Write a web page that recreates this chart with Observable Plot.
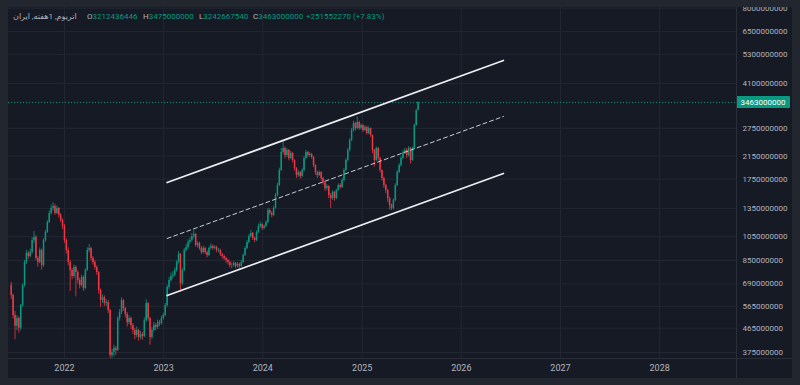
<!DOCTYPE html>
<html><head><meta charset="utf-8">
<script src="https://cdn.jsdelivr.net/npm/d3@7"></script>
<script src="https://cdn.jsdelivr.net/npm/@observablehq/plot@0.6"></script>
<style>
html,body{margin:0;padding:0;background:#22262f;width:800px;height:385px;overflow:hidden;}
#panel{position:absolute;left:8px;top:7px;width:784px;height:371px;background:#161a25;overflow:hidden;}
#chart{position:absolute;left:-8px;top:-7px;width:800px;height:385px;}
#chart svg{max-width:none !important;width:800px;height:385px;display:block;}
.sep{position:absolute;background:#2a2e39;}
#legend span{position:absolute;top:12px;font:8px Roboto,'DejaVu Sans',sans-serif;color:#b2b5be;white-space:nowrap;line-height:10px;}
#legend b{font-weight:normal;color:#089981;}
</style></head>
<body>
<div id="panel">
  <div id="chart"></div>
  <div class="sep" style="left:728px;top:0;width:1px;height:371px"></div>
  <div class="sep" style="left:0;top:351px;width:784px;height:1px"></div>
</div>
<div id="legend"></div>
<script>
// ---- data (prices in millions) ----
const title = "اتریوم, 1هفته, ایران";
const ohlcLegend = {O: "3212436446", H: "3475000000", L: "3242667540", C: "3463000000", change: "+251552270 (+7.83%)"};
const firstWeek = "2021-06-19";
const firstOpenM = 680;
const closeM = [
 622,521,473,507,465,569,680,835,905,880,
 912,1015,1042,865,835,929,813,1015,1090,1191,
 1291,1349,1373,1291,1349,1268,1213,1150,1015,929,
 835,777,737,798,763,711,680,731,662,777,
 929,946,865,835,798,763,651,595,611,580,
 585,545,365,375,389,382,507,535,595,554,
 526,489,507,477,456,436,456,428,440,432,
 498,580,507,428,456,477,468,489,485,507,
 521,569,668,711,737,744,777,835,896,692,
 777,929,954,997,1015,1052,1071,971,988,946,
 912,946,912,888,946,962,946,954,929,929,
 896,880,865,850,835,813,813,828,806,820,
 806,835,888,946,997,1052,1081,1033,1015,1090,
 1150,1170,1130,1150,1191,1325,1291,1268,1349,1514,
 1654,1890,2219,2299,2160,2259,2103,2199,2066,1924,
 1808,1856,1792,1890,2103,2219,2160,2179,2122,1976,
 1856,1808,1856,1761,1699,1610,1639,1514,1474,1555,
 1474,1582,1654,1625,1730,1890,2066,2259,2468,2697,
 2870,2745,2897,2745,2820,2697,2770,2624,2745,2580,
 2259,2066,2299,2103,1890,1761,1654,1582,1474,1385,
 1349,1448,1654,1856,1976,2103,2219,2259,2160,2299,
 2066,2299,2820,3212.436446,3463];
const highM = [
 700,630,540,520,515,575,690,850,930,920,
 940,1040,1100,1060,880,950,940,1030,1110,1210,
 1320,1390,1420,1400,1380,1360,1290,1230,1170,1030,
 950,850,790,815,810,775,725,745,740,790,
 950,980,955,880,850,810,770,660,625,620,
 600,595,550,385,400,395,515,550,610,600,
 560,535,520,512,485,465,470,460,452,448,
 510,600,585,512,468,490,485,500,498,518,
 532,580,680,730,760,770,795,850,920,905,
 790,945,980,1020,1040,1080,1110,1080,1005,1000,
 960,965,955,925,960,985,975,970,965,945,
 940,905,890,875,860,845,830,840,835,835,
 830,850,900,960,1015,1070,1110,1090,1045,1105,
 1175,1195,1180,1165,1210,1350,1345,1310,1375,1540,
 1690,1930,2300,2470,2330,2300,2280,2240,2220,2080,
 1940,1890,1870,1920,2140,2260,2240,2220,2200,2140,
 1990,1880,1880,1870,1780,1720,1670,1650,1540,1580,
 1570,1600,1680,1680,1760,1920,2100,2300,2510,2750,
 2930,2900,3050,2930,2860,2840,2810,2800,2790,2760,
 2590,2280,2330,2320,2120,1900,1780,1670,1600,1490,
 1400,1470,1680,1890,2010,2140,2260,2300,2300,2340,
 2320,2330,2860,3260,3475];
const lowM = [
 600,505,420,455,445,455,560,670,820,860,
 870,900,990,850,800,825,780,800,1000,1080,
 1180,1270,1320,1270,1280,1240,1190,1120,990,900,
 810,645,715,725,615,690,660,670,645,655,
 770,910,845,815,780,745,630,560,580,565,
 565,530,356,356,360,365,378,495,525,540,
 510,470,480,460,440,420,428,415,420,418,
 428,490,495,400,420,450,455,460,472,478,
 500,515,560,655,700,720,735,765,825,640,
 680,770,915,940,980,1000,1030,955,950,930,
 895,900,895,870,880,935,930,935,910,910,
 880,860,850,830,815,795,790,800,790,795,
 790,800,825,880,935,985,1040,1015,995,1005,
 1080,1135,1110,1115,1140,1180,1270,1240,1255,1340,
 1500,1640,1870,2180,2100,2120,2060,2080,2020,1880,
 1760,1780,1750,1770,1870,2080,2120,2130,2090,1940,
 1810,1760,1790,1720,1660,1570,1580,1470,1350,1450,
 1440,1460,1570,1600,1610,1710,1870,2040,2230,2440,
 2660,2680,2720,2700,2710,2650,2670,2590,2600,2540,
 2200,1950,2040,2060,1850,1720,1610,1540,1420,1330,
 1325,1330,1430,1640,1840,1950,2080,2180,2100,2130,
 2000,2050,2280,2800,3242.66754];
const channelDates = ["2023-01-14", "2026-06-05"];
const upperLineM = [1699, 5028];
const midLineM = [1033, 3056];
const lowerLineM = [622, 1841];
const lastPrice = 3463000000;
const yTicks = [8000000000, 6500000000, 5300000000, 4100000000, 2750000000, 2150000000, 1750000000,
  1350000000, 1050000000, 850000000, 690000000, 565000000, 465000000, 375000000];
const yearTicks = ["2022","2023","2024","2025","2026","2027","2028"];

// ---- build ----
const M = 1e6;
const UP = "#089981", DOWN = "#f23645";
const start = new Date(firstWeek + "T00:00:00Z");
const candles = closeM.map((c, i) => ({
  date: d3.utcDay.offset(start, 7 * i),
  open: (i ? closeM[i - 1] : firstOpenM) * M,
  close: c * M, high: highM[i] * M, low: lowM[i] * M
}));
const ups = candles.filter(d => d.close >= d.open);
const downs = candles.filter(d => d.close < d.open);
const line = arr => channelDates.map((d, i) => ({date: new Date(d + "T00:00:00Z"), v: arr[i] * M}));
const years = yearTicks.map(y => new Date(y + "-01-01T00:00:00Z"));

const plot = Plot.plot({
  width: 800, height: 385,
  marginLeft: 8, marginRight: 64, marginTop: 7, marginBottom: 27,
  style: {background: "transparent", color: "#b2b5be", fontFamily: "Roboto, sans-serif", maxWidth: "none"},
  x: {type: "utc", domain: [new Date("2021-06-09T00:00:00Z"), new Date("2028-10-10T00:00:00Z")]},
  y: {type: "log", domain: [355.5e6, 8.051e9], axis: null},
  marks: [
    Plot.gridY(yTicks, {stroke: "#232733", strokeOpacity: 1}),
    Plot.gridX(years, {stroke: "#232733", strokeOpacity: 1}),
    Plot.text(yTicks, {y: d => d, text: d => String(d), frameAnchor: "right", dx: 6, textAnchor: "start",
      fontSize: 8, fill: "#b2b5be"}),
    Plot.axisX(years, {anchor: "bottom", tickSize: 0, tickPadding: 6, tickFormat: d3.utcFormat("%Y"), fontSize: 9, fill: "#b2b5be"}),
    Plot.ruleY([lastPrice], {stroke: UP, strokeDasharray: "1,2", strokeWidth: 1}),
    Plot.ruleX(ups, {x: "date", y1: "low", y2: "high", stroke: UP, strokeWidth: 0.8}),
    Plot.ruleX(downs, {x: "date", y1: "low", y2: "high", stroke: DOWN, strokeWidth: 0.8}),
    Plot.ruleX(ups, {x: "date", y1: "open", y2: "close", stroke: UP, strokeWidth: 1.5}),
    Plot.ruleX(downs, {x: "date", y1: "open", y2: "close", stroke: DOWN, strokeWidth: 1.5}),
    Plot.line(line(upperLineM), {x: "date", y: "v", stroke: "#eceef2", strokeWidth: 1.7}),
    Plot.line(line(lowerLineM), {x: "date", y: "v", stroke: "#eceef2", strokeWidth: 1.7}),
    Plot.line(line(midLineM), {x: "date", y: "v", stroke: "#c9ccd3", strokeWidth: 1, strokeDasharray: "4,3"})
  ]
});
document.getElementById("chart").appendChild(plot);

// last-price label in the price axis, placed with the plot's own scales
const ys = plot.scale("y"), xs = plot.scale("x");
const py = ys.apply(lastPrice), px = xs.range[1];
const svg = d3.select(plot);
svg.append("rect").attr("x", px).attr("y", py - 6).attr("width", 54).attr("height", 12).attr("rx", 1).attr("fill", UP);
svg.append("text").attr("x", px + 27).attr("y", py).attr("dy", "0.33em").attr("text-anchor", "middle")
  .attr("fill", "#ffffff").attr("font-size", 8).attr("font-family", "Roboto, sans-serif").text(String(lastPrice));

// legend
const lg = document.getElementById("legend");
const add = (x, html) => { const s = document.createElement("span"); s.style.left = x + "px"; s.innerHTML = html; lg.appendChild(s); };
add(13, title);
add(87, "O<b>" + ohlcLegend.O + "</b>");
add(143, "H<b>" + ohlcLegend.H + "</b>");
add(199, "L<b>" + ohlcLegend.L + "</b>");
add(253, "C<b>" + ohlcLegend.C + "</b>");
add(306, "<b>" + ohlcLegend.change + "</b>");
</script>
</body></html>
